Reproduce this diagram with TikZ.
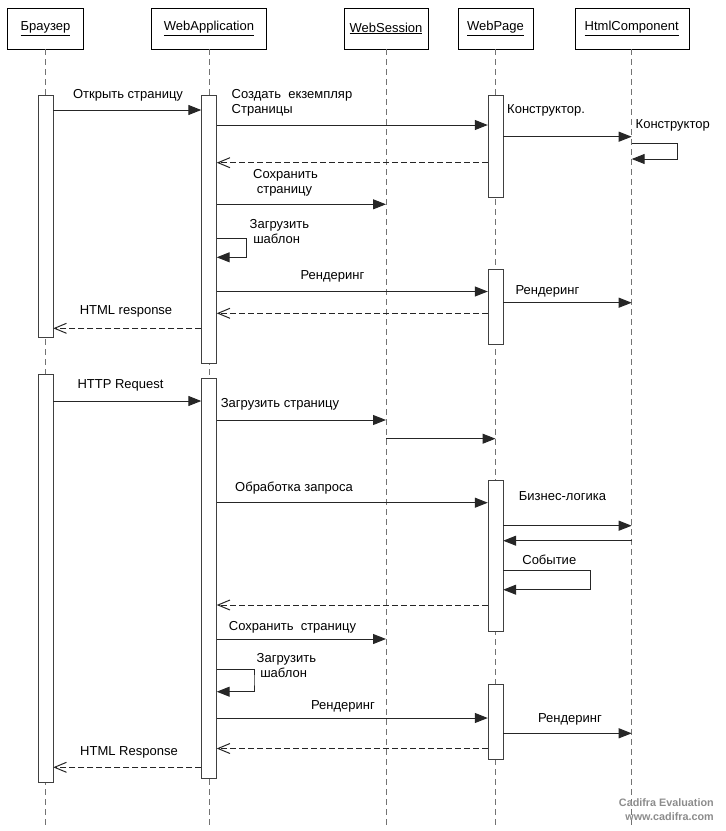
\documentclass[tikz,border=0pt]{standalone}
\usepackage{fontspec}
\setmainfont{Liberation Sans}
\usepackage{tikz}
\usetikzlibrary{arrows.meta, positioning}

\begin{document}
\begin{tikzpicture}[x=1pt, y=-1pt, font=\fontsize{13}{15}\selectfont,
    obj/.style={draw, minimum height=41pt, inner sep=0pt},
    act/.style={draw=black!75, fill=white, minimum width=15pt, inner sep=0pt, anchor=north},
    life/.style={draw=black!55, line width=1pt, dash pattern=on 6pt off 4pt},
    msg/.style={draw=black!85, line width=1pt, -{Triangle[length=13pt,width=10pt]}},
    ret/.style={draw=black!85, line width=1pt, dash pattern=on 6pt off 3pt, -{Straight Barb[length=12pt,width=10pt]}},
    lbl/.style={inner sep=0pt, align=left}]
    \useasboundingbox (0,0) rectangle (726,831);

    % objects
    \node[obj, minimum width=76pt] (brw) at (45.5,28.5) {\underline{Браузер}};
    \node[obj, minimum width=115pt] (app) at (209,28.5) {\underline{WebApplication}};
    \node[obj, minimum width=84pt] (ses) at (386,28.5) {\underline{WebSession}};
    \node[obj, minimum width=75pt] (pg) at (495.5,28.5) {\underline{WebPage}};
    \node[obj, minimum width=114pt] (cmp) at (631.7,28.5) {\underline{HtmlComponent}};

    \coordinate (brwE) at (45.5,825);
    \coordinate (appE) at (209,825);
    \coordinate (sesE) at (386,825);
    \coordinate (pgE) at (495.5,825);
    \coordinate (cmpE) at (631.7,825);

    \draw[life] (brw) -- (brwE);
    \draw[life] (app) -- (appE);
    \draw[life] (ses) -- (sesE);
    \draw[life] (pg) -- (pgE);
    \draw[life] (cmp) -- (cmpE);

    % activations
    \node[act, minimum height=241.7pt] (b1) at (45.5,95) {};
    \node[act, minimum height=408.3pt] (b2) at (45.5,374) {};
    \node[act, minimum height=267.7pt] (a1) at (209,95) {};
    \node[act, minimum height=400pt] (a2) at (209,378.3) {};
    \node[act, minimum height=101.7pt] (p1) at (495.5,95) {};
    \node[act, minimum height=75.6pt] (p2) at (495.5,268.7) {};
    \node[act, minimum height=151pt] (p3) at (495.5,480) {};
    \node[act, minimum height=75.3pt] (p4) at (495.5,684) {};

    % first request
    \draw[msg] (b1.east |- 0,110) -- (a1.west |- 0,110);
    \node[lbl] (l1) at (128,95) {Открыть страницу};

    \draw[msg] (a1.east |- 0,125) -- (p1.west |- 0,125);
    \node[lbl, anchor=west] (l2) at (231.5,103) {Создать\ \ екземпляр\\Страницы};

    \draw[msg] (p1.east |- 0,136.7) -- (cmp |- 0,136.7);
    \node[lbl, anchor=west] (l3) at (507,110.7) {Конструктор.};

    \draw[msg] (cmp |- 0,143.3) -| (677.3,151) |- (cmp |- 0,159);
    \node[lbl, anchor=west] (l4) at (635.5,125.7) {Конструктор};

    \draw[ret] (p1.west |- 0,162.7) -- (a1.east |- 0,162.7);

    \draw[msg] (a1.east |- 0,204.3) -- (ses |- 0,204.3);
    \node[lbl, anchor=west] (l5) at (253,182.5) {Сохранить\\\ страницу};

    \draw[msg] (a1.east |- 0,238.7) -| (246.7,248) |- (a1.east |- 0,257.3);
    \node[lbl, anchor=west] (l6) at (249.5,231.3) {Загрузить\\\ шаблон};

    \draw[msg] (a1.east |- 0,291.5) -- (p2.west |- 0,291.5);
    \node[lbl] (l7) at (332.5,276.7) {Рендеринг};

    \draw[msg] (p2.east |- 0,302.7) -- (cmp |- 0,302.7);
    \node[lbl] (l8) at (547.5,291) {Рендеринг};

    \draw[ret] (p2.west |- 0,313.3) -- (a1.east |- 0,313.3);

    \draw[ret] (a1.west |- 0,328.3) -- (b1.east |- 0,328.3);
    \node[lbl] (l9) at (126,311) {HTML response};

    % second request
    \draw[msg] (b2.east |- 0,401) -- (a2.west |- 0,401);
    \node[lbl] (l10) at (120.5,385) {HTTP Request};

    \draw[msg] (a2.east |- 0,420) -- (ses |- 0,420);
    \node[lbl] (l11) at (280,404.3) {Загрузить страницу};

    \draw[msg] (ses |- 0,438.7) -- (pg |- 0,438.7);

    \draw[msg] (a2.east |- 0,502.7) -- (p3.west |- 0,502.7);
    \node[lbl] (l12) at (294,487.7) {Обработка запроса};

    \draw[msg] (p3.east |- 0,525.7) -- (cmp |- 0,525.7);
    \node[lbl] (l13) at (562.5,495.7) {Бизнес-логика};

    \draw[msg] (cmp |- 0,540.7) -- (p3.east |- 0,540.7);

    \draw[msg] (p3.east |- 0,570.7) -| (590.3,580) |- (p3.east |- 0,589.7);
    \node[lbl] (l14) at (549.3,559.3) {Событие};

    \draw[ret] (p3.west |- 0,605) -- (a2.east |- 0,605);

    \draw[msg] (a2.east |- 0,639) -- (ses |- 0,639);
    \node[lbl] (l15) at (292.5,627.3) {Сохранить\ \ страницу};

    \draw[msg] (a2.east |- 0,669.3) -| (254,680) |- (a2.east |- 0,691.7);
    \node[lbl, anchor=west] (l16) at (256.5,665.5) {Загрузить\\\ шаблон};

    \draw[msg] (a2.east |- 0,718) -- (p4.west |- 0,718);
    \node[lbl] (l17) at (343,706.7) {Рендеринг};

    \draw[msg] (p4.east |- 0,733.3) -- (cmp |- 0,733.3);
    \node[lbl] (l18) at (570,719) {Рендеринг};

    \draw[ret] (p4.west |- 0,748.5) -- (a2.east |- 0,748.5);

    \draw[ret] (a2.west |- 0,767.3) -- (b2.east |- 0,767.3);
    \node[lbl] (l19) at (129,752.7) {HTML Response};

    % watermark
    \node[lbl, align=right, anchor=east, text=black!45, font=\fontsize{10.8}{14}\selectfont\bfseries] (wm) at (714,809.7) {Cadifra Evaluation\\www.cadifra.com};
\end{tikzpicture}
\end{document}
